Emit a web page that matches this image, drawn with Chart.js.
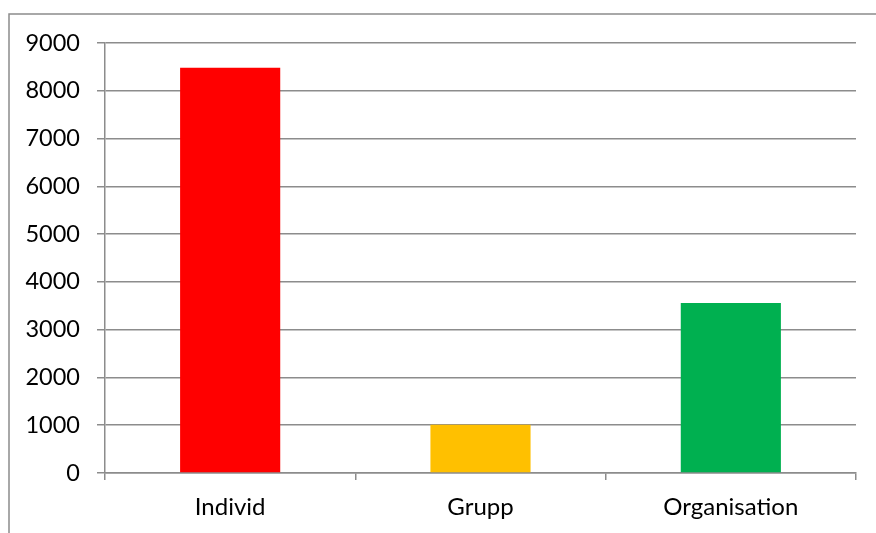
<!DOCTYPE html>
<html>
<head>
<meta charset="utf-8">
<script src="https://cdn.jsdelivr.net/npm/chart.js@4/dist/chart.umd.min.js"></script>
<style>
  html, body { margin: 0; padding: 0; background: #fff; }
  #wrap { position: relative; width: 876px; height: 533px; }
</style>
</head>
<body>
<div id="wrap"><canvas id="chart" width="876" height="533"></canvas></div>
<script>
// Chart data
const categories = ['Individ', 'Grupp', 'Organisation'];
const values = [8480, 1010, 3560];
const barColors = ['#ff0000', '#ffc000', '#00b050'];
const yTicks = [0, 1000, 2000, 3000, 4000, 5000, 6000, 7000, 8000, 9000];

const GRID = '#8c8c8c';

// outer frame of the chart object
const framePlugin = {
    id: 'frame',
    beforeDraw(chart) {
        const ctx = chart.ctx;
        ctx.save();
        ctx.fillStyle = '#fff';
        ctx.fillRect(0, 0, chart.width, chart.height);
        ctx.strokeStyle = '#8c8c8c';
        ctx.lineWidth = 1.5;
        ctx.strokeRect(9, 14, 1000, 1000);
        ctx.restore();
    }
};

new Chart(document.getElementById('chart'), {
    type: 'bar',
    data: {
        labels: categories,
        datasets: [{
            data: values,
            backgroundColor: barColors,
            borderWidth: 0,
            barPercentage: 0.4,
            categoryPercentage: 1
        }]
    },
    plugins: [framePlugin],
    options: {
        responsive: false,
        animation: false,
        events: [],
        layout: {
            autoPadding: false,
            padding: { left: 0, top: 43, right: 20, bottom: 0 }
        },
        plugins: {
            legend: { display: false },
            tooltip: { enabled: false }
        },
        scales: {
            x: {
                offset: true,
                grid: {
                    offset: true,
                    drawOnChartArea: false,
                    color: GRID,
                    lineWidth: 1.5,
                    tickLength: 7
                },
                border: { color: GRID, width: 1.5 },
                ticks: {
                    color: '#000',
                    padding: 13,
                    font: { family: 'Lato', size: 24 }
                },
                afterFit(scale) { scale.height = 60; }
            },
            y: {
                min: 0,
                max: 9000,
                afterBuildTicks(scale) {
                    scale.ticks = yTicks.map(v => ({ value: v }));
                },
                grid: {
                    color: GRID,
                    lineWidth: 1.5,
                    tickLength: 8
                },
                border: { color: GRID, width: 1.5 },
                ticks: {
                    color: '#000',
                    padding: 17,
                    font: { family: 'Lato', size: 23.5 },
                    callback: v => String(v)
                },
                afterFit(scale) { scale.width = 105; }
            }
        }
    }
});
</script>
</body>
</html>
